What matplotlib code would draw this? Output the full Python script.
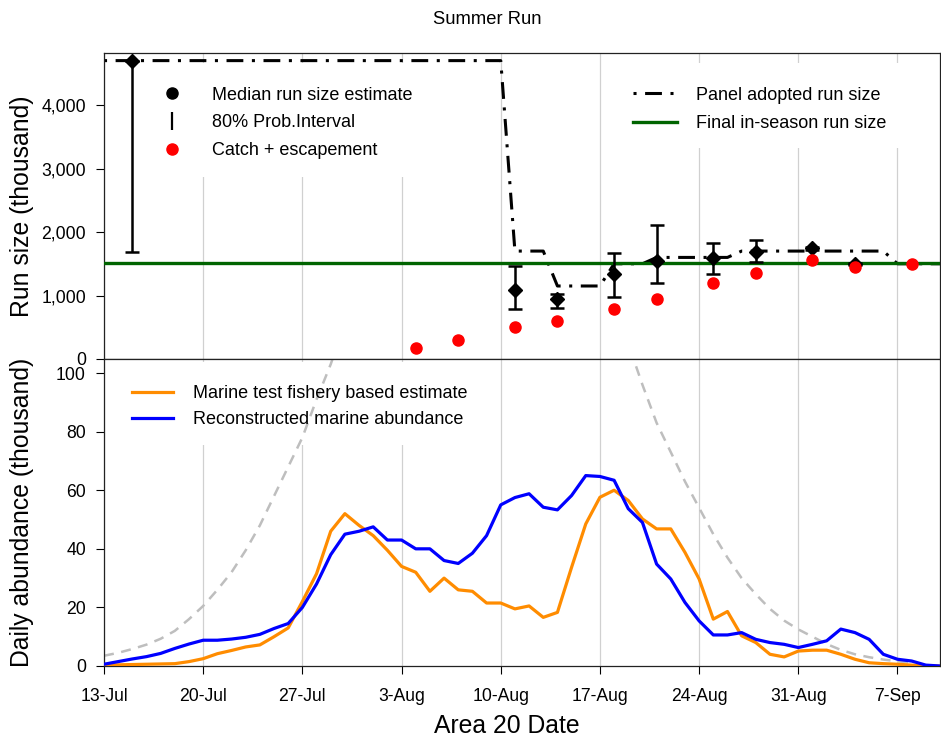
import numpy as np
import matplotlib
matplotlib.use('Agg')
import matplotlib.pyplot as plt
from matplotlib.lines import Line2D
from matplotlib.patches import Rectangle

plt.rcParams['font.family'] = ['Liberation Sans', 'DejaVu Sans']

#### x axis: days since 13-Jul ####
tick_days = [0, 7, 14, 21, 28, 35, 42, 49, 56]
tick_labels = ['13-Jul', '20-Jul', '27-Jul', '3-Aug', '10-Aug', '17-Aug', '24-Aug', '31-Aug', '7-Sep']
days = np.arange(60)

#### Run size panel (thousand) ####
adopt_days = [0, 28, 29, 31, 32, 35, 36, 38, 39, 44, 45, 55, 56, 59]
adopt_vals = [4700, 4700, 1700, 1700, 1150, 1150, 1500, 1500, 1600, 1600, 1700, 1700, 1500, 1500]

final_run = 1520

med_days = [2, 29, 32, 36, 39, 43, 46, 50, 53]
med_vals = [4700, 1090, 940, 1340, 1545, 1585, 1690, 1745, 1495]
med_lo = [1690, 795, 800, 980, 1190, 1340, 1530, 1720, 1480]
med_hi = [4700, 1470, 1025, 1665, 2110, 1835, 1875, 1770, 1510]

catch_days = [22, 25, 29, 32, 36, 39, 43, 46, 50, 53, 57]
catch_vals = [170, 300, 510, 605, 785, 950, 1195, 1350, 1560, 1455, 1490]

#### Daily abundance panel (thousand) ####
test_fishery = [0.3, 0.4, 0.5, 0.6, 0.7, 0.8, 1.5, 2.5, 4.2, 5.3,
                6.5, 7.2, 10, 13, 22, 31.5, 46, 52, 48, 44.5,
                39.5, 34, 32, 25.5, 30, 26, 25.5, 21.5, 21.5, 19.5,
                20.5, 16.6, 18.3, 33.7, 48.5, 57.6, 60, 56.5, 50.2, 46.8,
                46.8, 38.8, 29.7, 16, 18.6, 10.3, 8, 4, 3.1, 5.1,
                5.4, 5.4, 4, 2.3, 1.1, 0.8, 0.6, 0.3, 0, 0]

reconstructed = [0.6, 1.5, 2.4, 3.2, 4.3, 6, 7.5, 8.8, 8.8, 9.2,
                 9.8, 10.8, 12.8, 14.5, 20, 28, 38, 45, 46, 47.5,
                 43, 43, 40, 40, 36, 35, 38.5, 44.5, 55, 57.5,
                 58.8, 54.2, 53.3, 58.2, 65, 64.7, 63.4, 53.7, 49, 34.8,
                 29.7, 21.7, 15.4, 10.6, 10.6, 11.4, 9.1, 8, 7.4, 6.3,
                 7.4, 8.6, 12.6, 11.4, 9.1, 4, 2.3, 1.7, 0.3, 0]

nan = np.nan
timing_curve = [3.5, 4.5, 5.8, 7.3, 9.3, 12, 16, 20.5, 26, 32,
                39.5, 48, 58, 68, 78, 91, 103, 117, nan, nan,
                nan, nan, nan, nan, nan, nan, nan, nan, nan, nan,
                nan, nan, nan, nan, nan, nan, 125, 110, 96, 83,
                73, 63, 54, 45, 37, 30, 24.5, 19.5, 15.5, 12.5,
                10, 7.5, 5.5, 4, 3, 2.2, 1.6, 1.1, nan, nan]

#### Figure layout (pixel boxes) ####
W, H = 941, 742
fig = plt.figure(figsize=(W / 100, H / 100), dpi=100)

def pix_axes(x0, y0, x1, y1):
	return fig.add_axes([x0 / W, 1 - y1 / H, (x1 - x0) / W, (y1 - y0) / H])

ax1 = pix_axes(104, 53, 940, 359)
ax2 = pix_axes(104, 359, 940, 666)

grid_col = '#d0d0d0'
dashdot = (0, (1, 2.8, 5.5, 2.8))
tick_fs = 12.7
leg_fs = 13
lab_fs = 17.8

for ax in (ax1, ax2):
	ax.set_xlim(0, 59)
	ax.set_xticks(tick_days)
	ax.grid(axis='x', color=grid_col, lw=0.9)
	ax.set_axisbelow(True)
	for s in ax.spines.values():
		s.set_linewidth(0.9)
		s.set_color('#222222')
	ax.tick_params(axis='y', direction='out', length=6, width=0.8, pad=7, labelsize=tick_fs)

#### white legend backgrounds (hide grid, not data) ####
def white_box(ax, x0, y0, x1, y1, ytop, ybot):
	h = ybot - ytop
	r = Rectangle(((x0 - 104) / 836, (ybot - y1) / h), (x1 - x0) / 836, (y1 - y0) / h,
	              transform=ax.transAxes, facecolor='white', edgecolor='none', zorder=1)
	ax.add_patch(r)

white_box(ax1, 150, 63, 430, 177, 53, 359)
white_box(ax1, 620, 63, 935, 148, 53, 359)
white_box(ax2, 125, 362, 480, 445, 359, 666)

#### Top panel ####
ax1.plot(adopt_days, adopt_vals, color='black', lw=2.2, ls=dashdot, zorder=2)
ax1.axhline(final_run, color='#006400', lw=2.4, zorder=3)
ax1.errorbar(med_days, med_vals,
             yerr=[np.subtract(med_vals, med_lo), np.subtract(med_hi, med_vals)],
             fmt='D', color='black', ms=7, elinewidth=1.8, capsize=5, capthick=1.8, zorder=4)
ax1.plot(catch_days, catch_vals, 'o', color='red', ms=8, zorder=5)

ax1.set_ylim(0, 4820)
ax1.set_yticks([0, 1000, 2000, 3000, 4000])
ax1.set_yticklabels(['{:,}'.format(v) for v in [0, 1000, 2000, 3000, 4000]])
ax1.tick_params(axis='x', length=0, labelbottom=False)
ax1.set_ylabel('Run size (thousand)', fontsize=lab_fs)
ax1.yaxis.set_label_coords(-0.084, 0.5)

h1 = [Line2D([], [], marker='o', color='black', ls='none', ms=8),
      Line2D([], [], marker='|', color='black', ls='none', ms=13, mew=1.6),
      Line2D([], [], marker='o', color='red', ls='none', ms=8)]
leg1 = ax1.legend(h1, ['Median run size estimate', '80% Prob.Interval', 'Catch + escapement'],
                  loc='upper left', bbox_to_anchor=(0.0706, 0.89), frameon=False, fontsize=leg_fs,
                  handlelength=1.0, handletextpad=1.72, labelspacing=0.6, borderpad=0, borderaxespad=0)
ax1.add_artist(leg1)

h2 = [Line2D([], [], color='black', lw=2.2, ls=dashdot),
      Line2D([], [], color='#006400', lw=2.4)]
ax1.legend(h2, ['Panel adopted run size', 'Final in-season run size'],
           loc='upper left', bbox_to_anchor=(0.633, 0.89), frameon=False, fontsize=leg_fs,
           handlelength=2.44, handletextpad=1.05, labelspacing=0.62, borderpad=0, borderaxespad=0)

#### Bottom panel ####
ax2.plot(days, timing_curve, color='#bebebe', lw=1.8, ls=(0, (4, 3)), zorder=2)
ax2.plot(days, test_fishery, color='#ff8c00', lw=2.3, zorder=3, label='Marine test fishery based estimate')
ax2.plot(days, reconstructed, color='#0000ff', lw=2.3, zorder=4, label='Reconstructed marine abundance')

ax2.set_ylim(0, 104.8)
ax2.set_yticks([0, 20, 40, 60, 80, 100])
ax2.set_xticklabels(tick_labels)
ax2.tick_params(axis='x', direction='out', length=6, width=0.8, pad=10, labelsize=tick_fs)
ax2.set_ylabel('Daily abundance (thousand)', fontsize=lab_fs)
ax2.yaxis.set_label_coords(-0.084, 0.5)
ax2.legend(loc='upper left', bbox_to_anchor=(0.033, 0.915), frameon=False, fontsize=leg_fs,
           handlelength=2.3, handletextpad=1.09, labelspacing=0.5, borderpad=0, borderaxespad=0)

fig.text(487 / W, 1 - 20 / H, 'Summer Run', ha='center', va='center', fontsize=13.2)
fig.text(507 / W, 1 - 726 / H, 'Area 20 Date', ha='center', va='center', fontsize=lab_fs)

fig.savefig('out.png', dpi=100)
